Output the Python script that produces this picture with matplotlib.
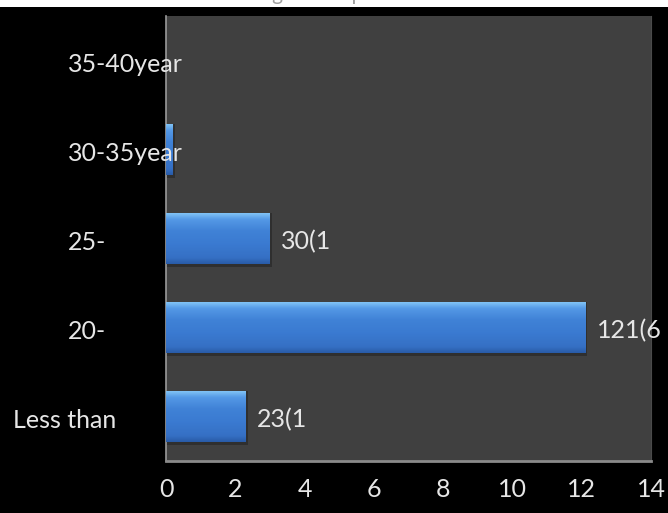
import numpy as np
import matplotlib
matplotlib.use("Agg")
import matplotlib.pyplot as plt
from matplotlib.patches import Rectangle
from matplotlib.transforms import blended_transform_factory

# Age groups (bottom to top) and bar values
categories = ["Less than", "20-", "25-", "30-35year", "35-40year"]
values = [2.3, 12.1, 3.0, 0.2, 0.0]
value_labels = ["23(1", "121(6", "30(1", "", ""]
x_ticks = [0, 2, 4, 6, 8, 10, 12, 14]
title = "Age of respondents"

plt.rcParams["font.family"] = ["Lato", "DejaVu Sans"]
FS = 18
TXT = "#e6e6e6"

fig = plt.figure(figsize=(6.68, 5.13), dpi=100, facecolor="black")
ax = fig.add_axes([166 / 668, 1 - 461 / 513, (651 - 166) / 668, (461 - 16) / 513])
ax.set_facecolor("#404040")

# white strip along the top edge with the clipped title
fig.patches.append(Rectangle((0, 1 - 7 / 513), 1, 7 / 513, transform=fig.transFigure,
                             facecolor="white", edgecolor="none", zorder=0))
fig.text(0.52, 1.0 + 6 / 513, title, ha="center", va="center", fontsize=15,
         color="#a0a0a0")

bar_h = 0.57
ypos = np.arange(len(categories))

# vertical gradient for the bars: light top edge, deeper blue body
grad_cols = np.array([
    [0.50, 0.76, 0.96],
    [0.33, 0.60, 0.90],
    [0.25, 0.51, 0.84],
    [0.23, 0.48, 0.82],
    [0.21, 0.44, 0.77],
    [0.16, 0.36, 0.66],
])
stops = np.array([0.0, 0.12, 0.35, 0.6, 0.88, 1.0])
n = 64
t = np.linspace(0, 1, n)
grad = np.stack([np.interp(t, stops, grad_cols[:, c]) for c in range(3)], axis=1)
grad_img = grad[:, None, :]

for y, v in zip(ypos, values):
    if v <= 0:
        continue
    # soft shadow under the bar
    ax.add_patch(Rectangle((0, y - bar_h / 2 - 0.04), v + 0.06, bar_h + 0.04,
                           facecolor="black", alpha=0.25, edgecolor="none", zorder=1))
    bar = ax.barh(y, v, height=bar_h, color="#3b7bd2", edgecolor="none", zorder=2)[0]
    im = ax.imshow(grad_img, extent=(0, v, y - bar_h / 2, y + bar_h / 2),
                   aspect="auto", origin="upper", zorder=3, interpolation="bilinear")
    im.set_clip_path(bar)

ax.set_aspect("auto")
ax.set_xlim(0, 14)
ax.set_ylim(-0.5, len(categories) - 0.5)

# value labels to the right of the bars
for y, v, lab in zip(ypos, values, value_labels):
    if lab:
        ax.text(v + 0.33, y - 0.03, lab, ha="left", va="center", fontsize=FS,
                color=TXT, zorder=5)

# category labels
label_x = [13 / 668, 68 / 668, 68 / 668, 68 / 668, 68 / 668]
trans = blended_transform_factory(fig.transFigure, ax.transData)
for y, cat, lx in zip(ypos, categories, label_x):
    ax.text(lx, y - 0.04, cat, transform=trans, ha="left", va="center",
            fontsize=FS, color=TXT, zorder=6, clip_on=False)

ax.set_yticks([])
ax.set_xticks(x_ticks)
ax.set_xticklabels([str(v) for v in x_ticks], fontsize=FS, color=TXT)
ax.tick_params(axis="x", length=0, pad=12)

ax.spines["top"].set_visible(False)
ax.spines["right"].set_color("#4a4a4a")
ax.spines["left"].set_color("#9a9a9a")
ax.spines["bottom"].set_color("#8a8a8a")
ax.spines["left"].set_linewidth(1.2)
ax.spines["bottom"].set_linewidth(2)

fig.savefig("out.png", dpi=100, facecolor="black")
